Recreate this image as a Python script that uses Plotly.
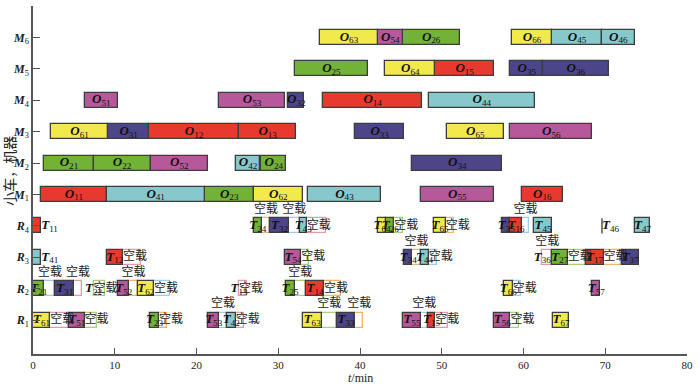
import plotly.graph_objects as go

# ---------------- data ----------------
rows = ["R1", "R2", "R3", "R4", "M1", "M2", "M3", "M4", "M5", "M6"]

job_colors = {"1": "#E8392E", "2": "#72B236", "3": "#4D4589",
              "4": "#86C8CB", "5": "#B6589A", "6": "#F2EA4C"}

# machine operations O_jk
op_machine = ["M1"] * 7 + ["M2"] * 6 + ["M3"] * 7 + ["M4"] * 5 + ["M5"] * 5 + ["M6"] * 6
op_id = ["11", "41", "23", "62", "43", "55", "16",
         "21", "22", "52", "42", "24", "34",
         "61", "31", "12", "13", "33", "65", "56",
         "51", "53", "32", "14", "44",
         "25", "64", "15", "35", "36",
         "63", "54", "26", "66", "45", "46"]
op_start = [1.0, 9.0, 21.0, 27.0, 33.6, 47.4, 59.8,
            1.4, 7.4, 14.4, 24.8, 27.9, 46.4,
            2.2, 9.2, 14.2, 25.2, 39.4, 50.6, 58.4,
            6.3, 22.8, 31.2, 35.5, 48.4,
            32.0, 43.1, 49.2, 58.4, 62.4,
            35.1, 42.2, 45.2, 58.6, 63.5, 69.6]
op_end = [9.0, 21.0, 27.0, 33.0, 42.6, 56.4, 64.8,
          7.4, 14.4, 21.4, 27.8, 31.0, 57.4,
          9.2, 14.2, 25.2, 32.2, 45.4, 57.6, 68.4,
          10.4, 30.8, 33.2, 47.6, 61.4,
          41.0, 49.2, 56.4, 62.4, 70.4,
          42.2, 45.2, 52.2, 63.5, 69.6, 73.6]

# robot (cart) transport tasks T_jk
task_robot = ["R4"] * 12 + ["R3"] * 9 + ["R2"] * 10 + ["R1"] * 11
task_id = ["11", "24", "32", "43", "64", "26", "65", "35", "16", "45", "46", "47",
           "41", "12", "54", "34", "44", "36", "27", "17", "37",
           "21", "31", "22", "52", "62", "13", "25", "14", "66", "57",
           "61", "51", "23", "53", "42", "63", "33", "55", "15", "56", "67"]
task_start = [0.0, 27.0, 29.0, 32.6, 42.2, 43.2, 49.1, 57.4, 58.4, 61.3, 69.6, 73.6,
              0.0, 9.0, 30.8, 45.4, 47.4, 62.3, 63.5, 67.6, 72.0,
              0.0, 2.75, 7.4, 10.4, 12.8, 25.2, 30.9, 33.4, 57.6, 68.4,
              0.0, 4.4, 14.3, 21.4, 23.7, 33.0, 37.2, 45.3, 48.3, 56.4, 63.6]
task_end = [1.0, 28.0, 31.3, 33.5, 43.2, 44.2, 50.5, 58.4, 59.8, 63.5, 69.6, 75.5,
            1.0, 11.0, 32.8, 46.4, 48.4, 62.3, 65.4, 69.8, 74.1,
            1.4, 5.0, 7.4, 11.8, 14.8, 25.2, 32.0, 35.6, 58.7, 69.4,
            2.1, 6.3, 15.4, 22.8, 24.8, 35.3, 39.4, 47.4, 49.2, 58.4, 65.6]
task_label_right = ["11", "41", "46"]

# empty (空载) runs of the carts
idle_robot = ["R4"] * 6 + ["R3"] * 7 + ["R2"] * 9 + ["R1"] * 10
idle_start = [28.0, 31.3, 33.5, 44.2, 50.5, 59.8,
              11.0, 32.8, 46.4, 48.4, 62.3, 65.4, 69.8,
              1.4, 5.0, 7.4, 11.8, 14.8, 25.2, 32.0, 35.6, 58.7,
              2.1, 6.3, 15.4, 22.8, 24.8, 35.3, 39.4, 47.4, 49.2, 58.4]
idle_end = [29.0, 32.6, 35.8, 45.3, 51.5, 60.7,
            13.2, 33.8, 47.4, 49.4, 63.5, 67.6, 72.0,
            2.75, 6.0, 8.8, 12.8, 16.8, 26.2, 33.4, 37.7, 59.7,
            4.4, 7.8, 16.4, 23.7, 25.8, 37.2, 40.4, 48.3, 50.8, 59.4]
idle_label = ["above", "above", "in", "in", "in", "above",
              "in", "in", "above", "in", "above", "in", "in",
              "above", "above", "in", "above", "in", "in", "above", "in", "in",
              "in", "in", "in", "above", "in", "above", "above", "above", "in", "in"]

x_ticks = [0, 10, 20, 30, 40, 50, 60, 70, 80]

# ---------------- figure ----------------
ypos = {r: i + 1 for i, r in enumerate(rows)}
BAR_W = 0.48
SERIF = "Liberation Serif, Times New Roman, serif"
CJK = "Liberation Serif, Noto Sans CJK SC, serif"
EDGE = "#3d3d3d"

fig = go.Figure()

# empty runs (drawn first so that labels/bars sit on top)
idle_cols = ["#F3B26B", "#9FCBEA", "#E59AA6", "#A9D07A"]
for i in range(len(idle_start)):
    fig.add_trace(go.Bar(
        orientation="h", y=[ypos[idle_robot[i]]], x=[idle_end[i] - idle_start[i]],
        base=[idle_start[i]], width=BAR_W,
        marker=dict(color="rgba(255,255,255,0)",
                    line=dict(color=idle_cols[i % 4], width=1.3)),
        hoverinfo="skip", showlegend=False))

# machine operations and robot tasks, one trace per job colour
for job, col in job_colors.items():
    idx = [i for i, o in enumerate(op_id) if o[0] == job]
    fig.add_trace(go.Bar(
        orientation="h", y=[ypos[op_machine[i]] for i in idx],
        x=[op_end[i] - op_start[i] for i in idx], base=[op_start[i] for i in idx],
        width=BAR_W, marker=dict(color=col, line=dict(color=EDGE, width=1.3)),
        hoverinfo="skip", showlegend=False))
    tdx = [i for i, t in enumerate(task_id) if t[0] == job and task_end[i] > task_start[i]]
    fig.add_trace(go.Bar(
        orientation="h", y=[ypos[task_robot[i]] for i in tdx],
        x=[task_end[i] - task_start[i] for i in tdx], base=[task_start[i] for i in tdx],
        width=BAR_W, marker=dict(color=col, line=dict(color=EDGE, width=1.3)),
        hoverinfo="skip", showlegend=False))

# zero-length task drawn as a bar edge (T46)
for i, t in enumerate(task_id):
    if task_end[i] == task_start[i] and t in task_label_right:
        y = ypos[task_robot[i]]
        fig.add_trace(go.Scatter(x=[task_start[i], task_start[i]],
                                 y=[y - BAR_W / 2, y + BAR_W / 2], mode="lines",
                                 line=dict(color="#555", width=1.5),
                                 hoverinfo="skip", showlegend=False))

# operation labels
fig.add_trace(go.Scatter(
    x=[(s + e) / 2 for s, e in zip(op_start, op_end)],
    y=[ypos[m] for m in op_machine],
    text=[f"<b><i>O</i></b><sub>{o}</sub>" for o in op_id],
    mode="text", textposition="middle center",
    textfont=dict(family=SERIF, size=13, color="#111"),
    hoverinfo="skip", showlegend=False))

# task labels
tx, ty, tt, tp = [], [], [], []
for i, t in enumerate(task_id):
    if t in task_label_right:
        tx.append(task_end[i]); tp.append("middle right")
    else:
        tx.append((task_start[i] + task_end[i]) / 2); tp.append("middle center")
    ty.append(ypos[task_robot[i]])
    tt.append(f"<b><i>T</i></b><sub>{t}</sub>")
fig.add_trace(go.Scatter(
    x=tx, y=ty, text=tt, mode="text", textposition=tp,
    textfont=dict(family=SERIF, size=13, color="#111"),
    hoverinfo="skip", showlegend=False))

# 空载 labels
ix, iy, ip = [], [], []
for i in range(len(idle_start)):
    y = ypos[idle_robot[i]]
    if idle_label[i] == "above":
        ix.append((idle_start[i] + idle_end[i]) / 2); iy.append(y + 0.5); ip.append("middle center")
    else:
        ix.append(idle_start[i]); iy.append(y); ip.append("middle right")
fig.add_trace(go.Scatter(
    x=ix, y=iy, text=["空载"] * len(ix), mode="text", textposition=ip,
    textfont=dict(family=CJK, size=12, color="#222"),
    hoverinfo="skip", showlegend=False))

tickvals = [ypos[r] for r in rows] + [11]
ticktext = [f"<b><i>{r[0]}</i></b><sub>{r[1]}</sub>" for r in rows] + [""]

fig.update_layout(
    width=700, height=391,
    margin=dict(l=33, r=13, t=6, b=37),
    plot_bgcolor="white", paper_bgcolor="white",
    barmode="overlay", bargap=0,
    xaxis=dict(range=[0, 80], tickvals=x_ticks, ticktext=[str(v) for v in x_ticks],
               ticks="inside", ticklen=6, tickwidth=1.3, tickcolor="#555",
               showline=True, linecolor="#555", linewidth=1.5,
               showgrid=False, zeroline=False, automargin=False,
               tickfont=dict(family=SERIF, size=11, color="#222")),
    yaxis=dict(range=[-0.08, 11.0], tickvals=tickvals, ticktext=ticktext,
               ticks="inside", ticklen=7, tickwidth=1.3, tickcolor="#555",
               showline=True, linecolor="#555", linewidth=1.5,
               showgrid=False, zeroline=False, automargin=False,
               tickfont=dict(family=SERIF, size=12, color="#222")),
    annotations=[
        dict(text="小车，机器", x=-0.037, xref="paper", xanchor="center",
             y=5.75, yref="y", yanchor="middle",
             textangle=-90, showarrow=False,
             font=dict(family="Noto Sans CJK SC", size=14, color="#222")),
        dict(text="<i>t</i>/min", x=0.5, xref="paper", xanchor="center",
             y=-0.069, yref="paper", yanchor="middle", showarrow=False,
             font=dict(family=SERIF, size=12, color="#222")),
    ],
)

fig.write_html("out.html", config={"displayModeBar": False},
               post_script="document.body.style.margin='0';")
